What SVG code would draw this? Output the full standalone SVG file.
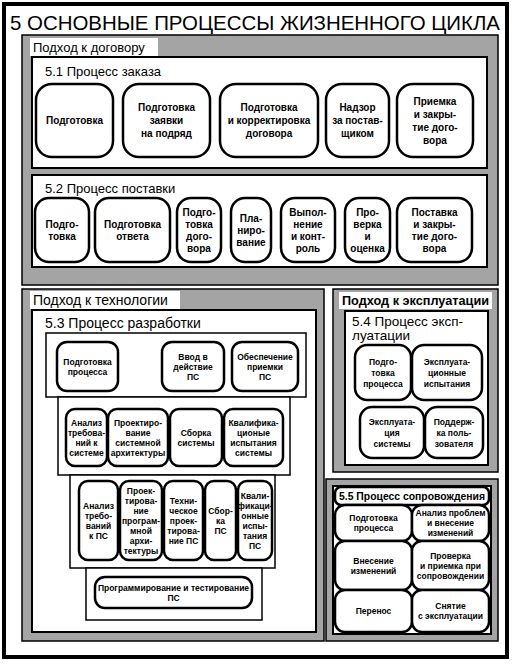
<svg xmlns="http://www.w3.org/2000/svg" width="516" height="664" viewBox="0 0 516 664">
<style>
text{font-family:"Liberation Sans",Arial,sans-serif;fill:#000}
.panel{fill:#a4a4a4;stroke:#000;stroke-width:1.5}
.lab{fill:#fff;stroke:none}
.box{fill:#fff;stroke:#000;stroke-width:2}
.stair{fill:#fff;stroke:#000;stroke-width:1.5}
.n{fill:#fff;stroke:#000;stroke-width:2.5}
.t{font-size:10px;font-weight:bold;text-anchor:middle}
.s{font-size:8.5px;font-weight:bold;text-anchor:middle}
.h{font-size:13px}
</style>
<rect x="0" y="0" width="516" height="664" fill="#fff"/>
<rect x="4" y="4" width="503" height="653" fill="#fff" stroke="#000" stroke-width="4"/>
<text x="10" y="30" font-size="21" textLength="490" lengthAdjust="spacingAndGlyphs">5 ОСНОВНЫЕ ПРОЦЕССЫ ЖИЗНЕННОГО ЦИКЛА</text>

<g id="approach-contract">
<rect class="panel" x="22" y="35" width="476" height="250"/>
<rect class="lab" x="30" y="38" width="128" height="18"/>
<text class="h" x="33" y="52">Подход к договору</text>
</g>

<g id="p51">
<rect class="box" x="32" y="57" width="455" height="111"/>
<text class="h" x="45" y="76">5.1 Процесс заказа</text>
<g id="p51-1"><rect class="n" x="36" y="84" width="77" height="73" rx="16"/><text class="t" x="74.5" y="124">Подготовка</text></g>
<g id="p51-2"><rect class="n" x="123" y="84" width="87" height="73" rx="16"/><text class="t" x="166.5" y="111">Подготовка</text><text class="t" x="166.5" y="124">заявки</text><text class="t" x="166.5" y="137">на подряд</text></g>
<g id="p51-3"><rect class="n" x="220" y="84" width="98" height="73" rx="16"/><text class="t" x="269" y="111">Подготовка</text><text class="t" x="269" y="124">и корректировка</text><text class="t" x="269" y="137">договора</text></g>
<g id="p51-4"><rect class="n" x="326" y="84" width="63" height="73" rx="16"/><text class="t" x="357.5" y="111">Надзор</text><text class="t" x="357.5" y="124">за постав-</text><text class="t" x="357.5" y="137">щиком</text></g>
<g id="p51-5"><rect class="n" x="397" y="84" width="76" height="73" rx="16"/><text class="t" x="435" y="104.5">Приемка</text><text class="t" x="435" y="117.5">и закры-</text><text class="t" x="435" y="130.5">тие дого-</text><text class="t" x="435" y="143.5">вора</text></g>
</g>

<g id="p52">
<rect class="box" x="32" y="175" width="455" height="92"/>
<text class="h" x="45" y="193">5.2 Процесс поставки</text>
<g id="p52-1"><rect class="n" x="35" y="198" width="54" height="64" rx="14"/><text class="t" x="62" y="227.5">Подго-</text><text class="t" x="62" y="239.5">товка</text></g>
<g id="p52-2"><rect class="n" x="95" y="198" width="75" height="64" rx="14"/><text class="t" x="132.5" y="227.5">Подготовка</text><text class="t" x="132.5" y="239.5">ответа</text></g>
<g id="p52-3"><rect class="n" x="177" y="198" width="44" height="64" rx="14"/><text class="t" x="199" y="215.5">Подго-</text><text class="t" x="199" y="227.5">товка</text><text class="t" x="199" y="239.5">дого-</text><text class="t" x="199" y="251.5">вора</text></g>
<g id="p52-4"><rect class="n" x="231" y="198" width="40" height="64" rx="14"/><text class="t" x="251" y="221.5">Пла-</text><text class="t" x="251" y="233.5">ниро-</text><text class="t" x="251" y="245.5">вание</text></g>
<g id="p52-5"><rect class="n" x="281" y="198" width="54" height="64" rx="14"/><text class="t" x="308" y="215.5">Выпол-</text><text class="t" x="308" y="227.5">нение</text><text class="t" x="308" y="239.5">и конт-</text><text class="t" x="308" y="251.5">роль</text></g>
<g id="p52-6"><rect class="n" x="345" y="198" width="45" height="64" rx="14"/><text class="t" x="367.5" y="215.5">Про-</text><text class="t" x="367.5" y="227.5">верка</text><text class="t" x="367.5" y="239.5">и</text><text class="t" x="367.5" y="251.5">оценка</text></g>
<g id="p52-7"><rect class="n" x="397" y="198" width="75" height="64" rx="14"/><text class="t" x="434.5" y="215.5">Поставка</text><text class="t" x="434.5" y="227.5">и закры-</text><text class="t" x="434.5" y="239.5">тие дого-</text><text class="t" x="434.5" y="251.5">вора</text></g>
</g>

<g id="approach-tech">
<rect class="panel" x="22" y="289" width="302" height="352"/>
<rect class="lab" x="30" y="291" width="150" height="18"/>
<text x="33" y="305" font-size="14">Подход к технологии</text>
</g>

<g id="p53">
<rect class="box" x="32" y="310" width="284" height="322"/>
<text x="45" y="328" font-size="14">5.3 Процесс разработки</text>
<rect class="stair" x="46" y="333" width="260" height="64"/>
<rect class="stair" x="58" y="397" width="232" height="78"/>
<rect class="stair" x="70" y="475" width="205" height="93"/>
<rect class="stair" x="86" y="568" width="176" height="52"/>
<g id="p53-a1"><rect class="n" x="57" y="342" width="61" height="49" rx="10"/><text class="s" x="87.5" y="364.5">Подготовка</text><text class="s" x="87.5" y="374.5">процесса</text></g>
<g id="p53-a2"><rect class="n" x="162" y="342" width="62" height="49" rx="10"/><text class="s" x="193" y="359.5">Ввод в</text><text class="s" x="193" y="369.5">действие</text><text class="s" x="193" y="379.5">ПС</text></g>
<g id="p53-a3"><rect class="n" x="232" y="342" width="66" height="49" rx="10"/><text class="s" x="265" y="359.5">Обеспечение</text><text class="s" x="265" y="369.5">приемки</text><text class="s" x="265" y="379.5">ПС</text></g>
<g id="p53-b1"><rect class="n" x="66" y="409" width="41" height="57" rx="9"/><text class="s" x="86.5" y="425.5">Анализ</text><text class="s" x="86.5" y="435.5">требова-</text><text class="s" x="86.5" y="445.5">ний к</text><text class="s" x="86.5" y="455.5">системе</text></g>
<g id="p53-b2"><rect class="n" x="108" y="409" width="60" height="57" rx="9"/><text class="s" x="138" y="425.5">Проектиро-</text><text class="s" x="138" y="435.5">вание</text><text class="s" x="138" y="445.5">системной</text><text class="s" x="138" y="455.5">архитектуры</text></g>
<g id="p53-b3"><rect class="n" x="170" y="409" width="52" height="57" rx="9"/><text class="s" x="196" y="435.5">Сборка</text><text class="s" x="196" y="445.5">системы</text></g>
<g id="p53-b4"><rect class="n" x="224" y="409" width="59" height="57" rx="9"/><text class="s" x="253.5" y="425.5">Квалифика-</text><text class="s" x="253.5" y="435.5">ционые</text><text class="s" x="253.5" y="445.5">испытания</text><text class="s" x="253.5" y="455.5">системы</text></g>
<g id="p53-c1"><rect class="n" x="79" y="481" width="39" height="79" rx="9"/><text class="s" x="98.5" y="508.5">Анализ</text><text class="s" x="98.5" y="518.5">требо-</text><text class="s" x="98.5" y="528.5">ваний</text><text class="s" x="98.5" y="538.5">к ПС</text></g>
<g id="p53-c2"><rect class="n" x="120" y="481" width="42" height="79" rx="9"/><text class="s" x="141" y="493.5">Проек-</text><text class="s" x="141" y="503.5">тирова-</text><text class="s" x="141" y="513.5">ние</text><text class="s" x="141" y="523.5">програм-</text><text class="s" x="141" y="533.5">мной</text><text class="s" x="141" y="543.5">архи-</text><text class="s" x="141" y="553.5">тектуры</text></g>
<g id="p53-c3"><rect class="n" x="164" y="481" width="39" height="79" rx="9"/><text class="s" x="183.5" y="503.5">Техни-</text><text class="s" x="183.5" y="513.5">ческое</text><text class="s" x="183.5" y="523.5">проек-</text><text class="s" x="183.5" y="533.5">тирова-</text><text class="s" x="183.5" y="543.5">ние ПС</text></g>
<g id="p53-c4"><rect class="n" x="205" y="481" width="31" height="79" rx="9"/><text class="s" x="220.5" y="513.5">Сбор-</text><text class="s" x="220.5" y="523.5">ка</text><text class="s" x="220.5" y="533.5">ПС</text></g>
<g id="p53-c5"><rect class="n" x="238" y="481" width="34" height="79" rx="9"/><text class="s" x="255" y="498.5">Квали-</text><text class="s" x="255" y="508.5">фикаци-</text><text class="s" x="255" y="518.5">онные</text><text class="s" x="255" y="528.5">испы-</text><text class="s" x="255" y="538.5">тания</text><text class="s" x="255" y="548.5">ПС</text></g>
<g id="p53-d1"><rect class="n" x="95" y="577" width="157" height="31" rx="10"/><text class="s" x="173.5" y="590.5" font-size="9">Программирование и тестирование</text><text class="s" x="173.5" y="601">ПС</text></g>
</g>

<g id="approach-ops">
<rect class="panel" x="333" y="289" width="165" height="183"/>
<rect class="lab" x="339" y="292" width="153" height="17"/>
<text x="342" y="305" font-size="13" font-weight="bold" textLength="147" lengthAdjust="spacingAndGlyphs">Подход к эксплуатации</text>
</g>

<g id="p54">
<rect class="box" x="345" y="311" width="143" height="154"/>
<text x="352" y="326" font-size="13.5">5.4 Процесс эксп-</text>
<text x="352" y="340" font-size="13.5">луатации</text>
<g id="p54-1"><rect class="n" x="355" y="345" width="56" height="55" rx="12"/><text class="s" x="383" y="364.5" font-size="9">Подго-</text><text class="s" x="383" y="375.5" font-size="9">товка</text><text class="s" x="383" y="386.5" font-size="9">процесса</text></g>
<g id="p54-2"><rect class="n" x="412" y="345" width="70" height="55" rx="12"/><text class="s" x="447" y="364.5" font-size="9">Эксплуата-</text><text class="s" x="447" y="375.5" font-size="9">ционные</text><text class="s" x="447" y="386.5" font-size="9">испытания</text></g>
<g id="p54-3"><rect class="n" x="360" y="407" width="64" height="51" rx="12"/><text class="s" x="392" y="424.5" font-size="9">Эксплуата-</text><text class="s" x="392" y="435.5" font-size="9">ция</text><text class="s" x="392" y="446.5" font-size="9">системы</text></g>
<g id="p54-4"><rect class="n" x="425" y="407" width="58" height="51" rx="12"/><text class="s" x="454" y="424.5" font-size="9">Поддерж-</text><text class="s" x="454" y="435.5" font-size="9">ка поль-</text><text class="s" x="454" y="446.5" font-size="9">зователя</text></g>
</g>

<g id="p55">
<rect class="panel" x="326" y="479" width="172" height="162"/>
<rect class="box" x="333" y="486" width="158" height="148" stroke-width="1.5"/>
<rect class="n" x="335" y="487" width="154" height="18" rx="6"/>
<text x="339" y="500" font-size="11.5" font-weight="bold" textLength="146" lengthAdjust="spacingAndGlyphs">5.5 Процесс сопровождения</text>
<g id="p55-1"><rect class="n" x="335" y="505" width="77" height="36" rx="10"/><text class="s" x="373.5" y="521">Подготовка</text><text class="s" x="373.5" y="531">процесса</text></g>
<g id="p55-2"><rect class="n" x="412" y="505" width="77" height="36" rx="10"/><text class="s" x="450.5" y="516">Анализ проблем</text><text class="s" x="450.5" y="526">и внесение</text><text class="s" x="450.5" y="536">изменений</text></g>
<g id="p55-3"><rect class="n" x="335" y="541" width="77" height="49" rx="10"/><text class="s" x="373.5" y="563.5">Внесение</text><text class="s" x="373.5" y="573.5">изменений</text></g>
<g id="p55-4"><rect class="n" x="412" y="541" width="77" height="49" rx="10"/><text class="s" x="450.5" y="558.5">Проверка</text><text class="s" x="450.5" y="568.5">и приемка при</text><text class="s" x="450.5" y="578.5">сопровождении</text></g>
<g id="p55-5"><rect class="n" x="335" y="590" width="77" height="42" rx="10"/><text class="s" x="373.5" y="614">Перенос</text></g>
<g id="p55-6"><rect class="n" x="412" y="590" width="77" height="42" rx="10"/><text class="s" x="450.5" y="609">Снятие</text><text class="s" x="450.5" y="619">с эксплуатации</text></g>
</g>
<g id="connectors"></g>
</svg>
